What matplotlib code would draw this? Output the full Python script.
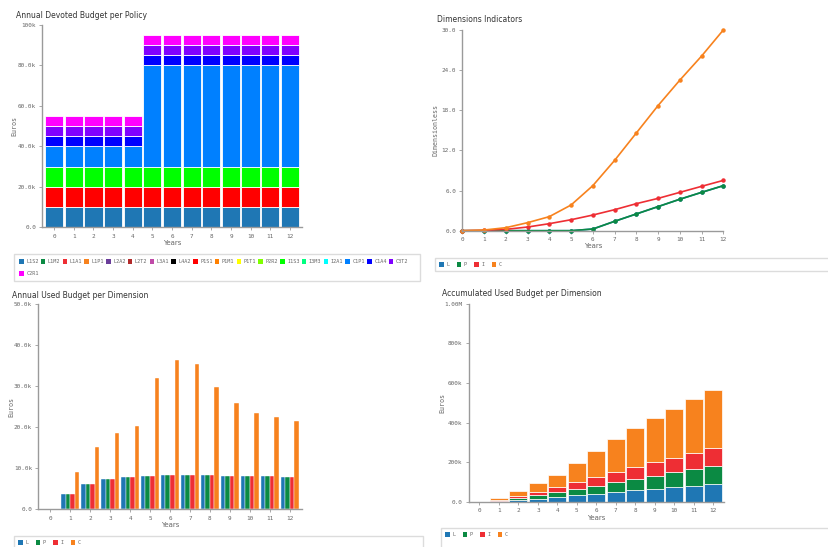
"""
Policy budget dashboard: four panels (devoted budget per policy, dimension
indicators, annual used budget and accumulated used budget per dimension).
"""

import matplotlib.pyplot as plt
from matplotlib.patches import Rectangle
from matplotlib.ticker import FuncFormatter
import numpy as np

W, H = 829, 547

years = list(range(13))

# --- annual devoted budget per policy (euros) ---
policies = ["L1S2", "L1M2", "L1A1", "L1P1", "L2A2", "L2T2", "L3A1", "L4A2",
            "P1S1", "P1M1", "P1T1", "P2R2", "I1S3", "I3M3", "I2A1",
            "C1P1", "C1A4", "C3T2", "C2R1"]
policy_colors = ["#1f77b4", "#0b8a43", "#ee2e34", "#f7821e", "#6a3d9a",
                 "#b22a2a", "#c04aa8", "#000000", "#ff0000", "#ff8000",
                 "#ffff00", "#80ff00", "#00ff00", "#00ff80", "#00ffff",
                 "#0080ff", "#0000ff", "#8000ff", "#ff00ff"]
zero = [0] * 13
devoted = {
    "L1S2": [10000] * 13,
    "P1S1": [10000] * 13,
    "I1S3": [10000] * 13,
    "C1P1": [10000] * 5 + [50000] * 8,
    "C1A4": [5000] * 13,
    "C3T2": [5000] * 13,
    "C2R1": [5000] * 13,
}

# --- dimension indicators (dimensionless) ---
dims = ["L", "P", "I", "C"]
dim_colors = ["#1f77b4", "#0b8a43", "#ee2e34", "#f7821e"]
ind_L = [0, 0, 0, 0, 0, 0, 0.25, 1.4, 2.5, 3.6, 4.7, 5.73, 6.73]
ind_P = [0, 0, 0, 0, 0, 0, 0.25, 1.4, 2.5, 3.6, 4.7, 5.73, 6.73]
ind_I = [0, 0.05, 0.2, 0.55, 1.05, 1.64, 2.34, 3.14, 4.04, 4.83, 5.73, 6.63, 7.52]
ind_C = [0, 0.1, 0.45, 1.2, 2.1, 3.84, 6.73, 10.5, 14.6, 18.7, 22.5, 26.1, 30.0]

# --- annual used budget per dimension (thousand euros) ---
used_L = [0, 3.66, 6.1, 7.3, 7.9, 8.2, 8.37, 8.37, 8.37, 8.2, 8.2, 8.13, 7.97]
used_P = [0, 3.66, 6.1, 7.3, 7.9, 8.2, 8.37, 8.37, 8.37, 8.2, 8.2, 8.13, 7.97]
used_I = [0, 3.66, 6.1, 7.3, 7.9, 8.2, 8.37, 8.37, 8.37, 8.2, 8.2, 8.13, 7.97]
used_C = [0, 9.2, 15.1, 18.5, 20.3, 32.0, 36.5, 35.4, 29.8, 25.9, 23.5, 22.4, 21.6]

# --- accumulated used budget per dimension (thousand euros) ---
acc_L = [0, 3.7, 9.8, 17.1, 25.0, 33.2, 41.6, 50.0, 58.3, 66.5, 74.7, 82.8, 90.8]
acc_P = [0, 3.7, 9.8, 17.1, 25.0, 33.2, 41.6, 50.0, 58.3, 66.5, 74.7, 82.8, 90.8]
acc_I = [0, 3.7, 9.8, 17.1, 25.0, 33.2, 41.6, 50.0, 58.3, 66.5, 74.7, 82.8, 90.8]
acc_C = [0, 9.2, 24.3, 42.8, 63.1, 95.1, 131.6, 167.0, 196.8, 222.7, 246.2, 268.6, 290.2]

AXIS_GREY = "#9a9a9a"
TEXT_GREY = "#666666"
MONO = "DejaVu Sans Mono"


def px_rect(left, top, right, bottom):
    return [left / W, 1 - bottom / H, (right - left) / W, (bottom - top) / H]


def style_axes(ax, ylabel, label_x):
    for s in ("top", "right"):
        ax.spines[s].set_visible(False)
    for s in ("left", "bottom"):
        ax.spines[s].set_color(AXIS_GREY)
        ax.spines[s].set_linewidth(1.0)
    ax.tick_params(axis="both", colors=AXIS_GREY, labelcolor=TEXT_GREY,
                   labelsize=4.3, length=2.5, width=0.6, pad=2)
    for lab in ax.get_xticklabels() + ax.get_yticklabels():
        lab.set_family(MONO)
    ax.set_xticks(years)
    ax.set_xticklabels([str(y) for y in years], family=MONO)
    ax.set_xlabel("Years", fontsize=5, color=TEXT_GREY, labelpad=1)
    ax.set_ylabel(ylabel, fontsize=4.8, color=TEXT_GREY, family=MONO)
    # place the y label at a fixed pixel column, vertically centred
    box = ax.get_position()
    ax.yaxis.set_label_coords(label_x / W, box.y0 + box.height / 2,
                              transform=ax.figure.transFigure)


def legend_box(fig, left, top, right, bottom):
    fig.add_artist(Rectangle((left / W, 1 - bottom / H), (right - left) / W,
                             (bottom - top) / H, transform=fig.transFigure,
                             facecolor="none", edgecolor="#dcdcdc", lw=1.0,
                             clip_on=False))


def add_legend(fig, handles, labels, x, y, ncol, colspace=0.4):
    leg = fig.legend(handles, labels, loc="upper left",
                     bbox_to_anchor=(x / W, 1 - y / H), ncol=ncol,
                     frameon=False, fontsize=3.7, handlelength=0.9,
                     handleheight=1.0, handletextpad=0.5,
                     columnspacing=colspace, borderpad=0, borderaxespad=0)
    for t in leg.get_texts():
        t.set_color(TEXT_GREY)
        t.set_family(MONO)
    return leg


def kfmt(v, _):
    if v >= 100000:
        return f"{v / 1000:.0f}k"
    if v == 0:
        return "0.0"
    return f"{v / 1000:.1f}k"


fig = plt.figure(figsize=(W / 100, H / 100), dpi=100)
fig.patch.set_facecolor("white")

# ---------------- top-left: annual devoted budget per policy ----------------
ax1 = fig.add_axes(px_rect(42.3, 25, 301.7, 227.3))
bottom = np.zeros(13)
handles = []
for name, color in zip(policies, policy_colors):
    vals = np.array(devoted.get(name, zero), dtype=float)
    ax1.bar(years, vals, bottom=bottom, width=0.93, color=color,
            edgecolor="white", linewidth=0.6)
    handles.append(Rectangle((0, 0), 1, 1, facecolor=color))
    bottom += vals
ax1.set_xlim(-0.6, 12.6)
ax1.set_ylim(0, 100000)
ax1.set_yticks([0, 20000, 40000, 60000, 80000, 100000])
ax1.yaxis.set_major_formatter(FuncFormatter(kfmt))
style_axes(ax1, "Euros", 17)
fig.text(16 / W, 1 - 16 / H, "Annual Devoted Budget per Policy",
         fontsize=5.5, color="#333333", va="center")
legend_box(fig, 14, 254, 420, 281)
add_legend(fig, handles[:18], policies[:18], 19, 259, 18)
add_legend(fig, handles[18:], policies[18:], 19, 271, 1)

# ---------------- top-right: dimensions indicators ----------------
ax2 = fig.add_axes(px_rect(462.3, 30, 723.3, 230.7))
dim_handles = []
for vals, color in zip([ind_L, ind_P, ind_I, ind_C], dim_colors):
    ax2.plot(years, vals, "-o", color=color, lw=1.2, markersize=2.2,
             clip_on=False)
    dim_handles.append(Rectangle((0, 0), 1, 1, facecolor=color))
ax2.set_xlim(0, 12)
ax2.set_ylim(0, 30)
ax2.set_yticks([0, 6, 12, 18, 24, 30])
ax2.yaxis.set_major_formatter(FuncFormatter(lambda v, _: f"{v:.1f}"))
style_axes(ax2, "Dimensionless", 439)
fig.text(437 / W, 1 - 19 / H, "Dimensions Indicators",
         fontsize=5.5, color="#333333", va="center")
legend_box(fig, 435, 258, 835, 271)
add_legend(fig, dim_handles, dims, 439, 262, 4, 1.4)

# ---------------- bottom-left: annual used budget per dimension ----------------
ax3 = fig.add_axes(px_rect(38.3, 304.3, 301.7, 509.3))
x = np.arange(13)
bw = 0.23
for i, (vals, color) in enumerate(zip([used_L, used_P, used_I, used_C],
                                      dim_colors)):
    ax3.bar(x + (i - 1.5) * bw, np.array(vals) * 1000, width=bw, color=color,
            edgecolor="white", linewidth=0.3)
ax3.set_xlim(-0.6, 12.6)
ax3.set_ylim(0, 50000)
ax3.set_yticks([0, 10000, 20000, 30000, 40000, 50000])
ax3.yaxis.set_major_formatter(FuncFormatter(kfmt))
style_axes(ax3, "Euros", 14)
fig.text(12 / W, 1 - 296 / H, "Annual Used Budget per Dimension",
         fontsize=5.5, color="#333333", va="center")
legend_box(fig, 14, 536, 423, 552)
add_legend(fig, dim_handles, dims, 18, 540, 4, 1.4)

# ---------------- bottom-right: accumulated used budget per dimension ----------------
ax4 = fig.add_axes(px_rect(468.7, 303.7, 724, 502))
bottom = np.zeros(13)
for vals, color in zip([acc_L, acc_P, acc_I, acc_C], dim_colors):
    v = np.array(vals) * 1000
    ax4.bar(years, v, bottom=bottom, width=0.93, color=color,
            edgecolor="white", linewidth=0.5)
    bottom += v
ax4.set_xlim(-0.55, 12.55)
ax4.set_ylim(0, 1000000)
ax4.set_yticks([0, 200000, 400000, 600000, 800000, 1000000])
ax4.yaxis.set_major_formatter(
    FuncFormatter(lambda v, _: "0.0" if v == 0 else
                  ("1.00M" if v >= 1e6 else f"{v / 1000:.0f}k")))
style_axes(ax4, "Euros", 445)
fig.text(442 / W, 1 - 294 / H, "Accumulated Used Budget per Dimension",
         fontsize=5.5, color="#333333", va="center")
legend_box(fig, 441, 528, 835, 552)
add_legend(fig, dim_handles, dims, 445, 532, 4, 1.4)

fig.savefig("out.png", dpi=100)
